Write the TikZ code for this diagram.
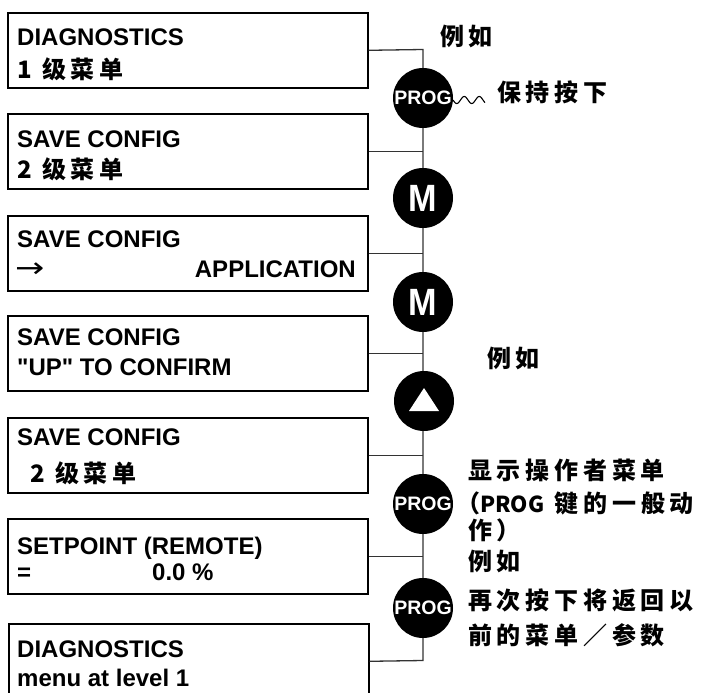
\documentclass[tikz,border=0pt]{standalone}
\usepackage{fontspec}
\setmainfont{Liberation Sans}
\newfontfamily\lcdf{Liberation Sans}[Ligatures=TeXOff]
\newfontfamily\cjk{Noto Sans CJK SC}[LetterSpace=20]
\newfontfamily\cjklat{Noto Sans CJK SC}
\newfontfamily\symf{DejaVu Sans}
\begin{document}
\begin{tikzpicture}[x=1pt,y=-1pt]
\tikzset{
  panel/.style={draw, line width=1.6pt, minimum width=360pt, minimum height=75pt, inner sep=0pt, anchor=north west},
  keybtn/.style={circle, fill=black, minimum size=60pt, inner sep=0pt, text=white},
  wire/.style={line width=1.3pt, draw=black!80},
  lcd/.style={anchor=base west, inner sep=0pt, font=\fontsize{24}{24}\selectfont\lcdf\bfseries},
  lcdcn/.style={anchor=base west, inner sep=0pt, font=\fontsize{24}{24}\selectfont\cjk\bfseries},
  note/.style={anchor=base west, inner sep=0pt, font=\fontsize{24}{24}\selectfont\cjk\bfseries},
  progtxt/.style={font=\fontsize{19.5}{19}\selectfont\bfseries},
  mtxt/.style={font=\fontsize{38}{38}\selectfont\bfseries},
}
\useasboundingbox (0,0) rectangle (705,693);
\clip (0,0) rectangle (705,693);
\fill[white] (0,0) rectangle (705,693);

% panels
\node[panel] (b1) at (7,12) {};
\node[panel] (b2) at (7,113) {};
\node[panel] (b3) at (7,215) {};
\node[panel] (b4) at (7,315) {};
\node[panel] (b5) at (7,417) {};
\node[panel] (b6) at (7,518) {};
\node[panel] (b7) at (8,623) {};

% spine
\coordinate (top) at (423,49.5);
\coordinate (bot) at (423,660.5);
\draw[wire] (b1.east) -- (top) -- (bot) -- (b7.east);
\foreach \b in {b2,b3,b4,b5,b6}{
  \draw[wire] (\b.east) -- (\b.east -| top);
}

% panel texts
\node[lcd] (t1a) at (17,46) {DIAGNOSTICS};
\node[lcdcn] (t1b) at (17,79) {1 级菜单};
\node[lcd] (t2a) at (17,147) {SAVE CONFIG};
\node[lcdcn] (t2b) at (17,178) {2 级菜单};
\node[lcd] (t3a) at (17,247) {SAVE CONFIG};
\node[anchor=base west, inner sep=0pt, font=\fontsize{28}{28}\selectfont\symf] (t3b) at (15,277) {\scalebox{1.25}[1]{→}};
\node[lcd, anchor=base east] (t3c) at (356,277) {APPLICATION};
\node[lcd] (t4a) at (17,345) {SAVE CONFIG};
\node[lcd] (t4b) at (17,375) {"UP" TO CONFIRM};
\node[lcd] (t5a) at (17,445) {SAVE CONFIG};
\node[lcdcn] (t5b) at (30,482) {2 级菜单};
\node[lcd] (t6a) at (17,554) {SETPOINT (REMOTE)};
\node[lcd] (t6b) at (17,580) {=};
\node[lcd] (t6c) at (152,580) {0.0 \%};
\node[lcd] (t7a) at (17,657) {DIAGNOSTICS};
\node[lcd] (t7b) at (17,686) {menu at level 1};

% keys
\node[keybtn, progtxt] (k1) at (423,98) {PROG};
\node[keybtn, mtxt] (k2) at (423,198) {\scalebox{0.9}[1]{M}};
\node[keybtn, mtxt] (k3) at (423,302) {\scalebox{0.9}[1]{M}};
\node[keybtn] (k4) at (424,401) {};
\fill[white] ([xshift=-15pt,yshift=-10pt]k4.center) -- ([xshift=15pt,yshift=-10pt]k4.center) -- ([yshift=13pt]k4.center) -- cycle;
\node[keybtn, progtxt] (k5) at (423,504) {PROG};
\node[keybtn, progtxt] (k6) at (423,608) {PROG};

% wave (free end)
\draw[line width=1.1pt] plot[domain=0:32, samples=60, smooth] ({453+\x}, {100+3.5*sin(\x*360/15)});

% notes
\node[note] (n1) at (440,46) {例如};
\node[note] (n2) at (497,102) {保持按下};
\node[note] (n3) at (487,367) {例如};
\node[note] (n4) at (468,479) {显示操作者菜单};
\node[note] (n5) at (456,512) {（{\cjklat\fontsize{22}{22}\selectfont\bfseries PROG} 键的一般动};
\node[note] (n6) at (468,539) {作）};
\node[note] (n7) at (468,570) {例如};
\node[note] (n8) at (468,609) {再次按下将返回以};
\node[note] (n9) at (468,644) {前的菜单／参数};
\end{tikzpicture}
\end{document}
